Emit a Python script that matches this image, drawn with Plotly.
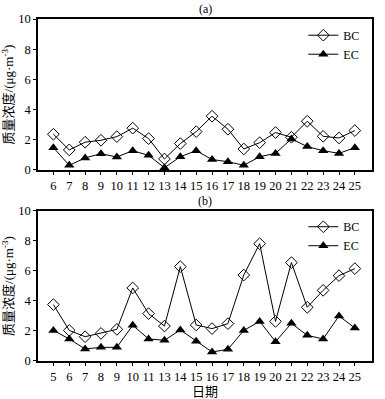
import plotly.graph_objects as go
from plotly.subplots import make_subplots

days_a = ["6","7","8","9","10","11","12","13","14","15","16","17","18","19","20","21","22","23","24","25"]
bc_a = [2.37,1.33,1.84,1.97,2.21,2.77,2.08,0.73,1.75,2.54,3.56,2.70,1.39,1.81,2.48,2.17,3.23,2.23,2.12,2.61]
ec_a = [1.48,0.31,0.80,1.08,0.86,1.28,0.97,0.15,0.88,1.28,0.69,0.55,0.31,0.88,1.10,2.06,1.55,1.28,1.10,1.48]

days_b = ["5","6","7","8","9","10","11","13","14","15","16","17","18","19","20","21","22","23","24","25"]
bc_b = [3.76,2.04,1.62,1.84,2.11,4.87,3.16,2.33,6.29,2.40,2.16,2.49,5.73,7.82,2.64,6.56,3.58,4.71,5.69,6.16]
ec_b = [2.04,1.47,0.80,0.91,0.91,2.38,1.47,1.38,2.07,1.31,0.60,0.78,2.04,2.64,1.29,2.51,1.71,1.47,3.00,2.20]

y_ticks = [0, 2, 4, 6, 8, 10]
FONT = "Liberation Serif, Noto Sans CJK SC, serif"

fig = make_subplots(rows=2, cols=1, vertical_spacing=0.12)

def add(x, bc, ec, row, legend):
    fig.add_trace(go.Scatter(x=x, y=bc, mode="lines+markers", name="BC",
                             line=dict(color="black", width=1),
                             marker=dict(symbol="diamond-open", size=9, color="black", line=dict(width=1)),
                             legend=legend), row=row, col=1)
    fig.add_trace(go.Scatter(x=x, y=ec, mode="lines+markers", name="EC",
                             line=dict(color="black", width=1),
                             marker=dict(symbol="triangle-up", size=9, color="black"),
                             legend=legend), row=row, col=1)

add(days_a, bc_a, ec_a, 1, "legend")
add(days_b, bc_b, ec_b, 2, "legend2")

axis_common = dict(showline=True, linecolor="black", linewidth=1.5, mirror=True,
                   showgrid=False, zeroline=False, ticks="outside", ticklen=3,
                   tickcolor="black", automargin=False,
                   tickfont=dict(family=FONT, size=12.5, color="black"))

fig.update_xaxes(type="category", range=[-0.97, 20.08], **axis_common)
fig.update_yaxes(range=[0, 10], tickvals=y_ticks, **axis_common)
fig.update_yaxes(title=dict(text="质量浓度/(μg·m<sup>-3</sup>)", font=dict(family=FONT, size=13, color="black"), standoff=4))
fig.update_layout(
    xaxis=dict(domain=[0, 1], tickmode="array", tickvals=days_a, ticktext=days_a),
    xaxis2=dict(tickmode="array", tickvals=days_b, ticktext=days_b,
                title=dict(text="日期", font=dict(family=FONT, size=13, color="black"), standoff=4)),
    yaxis=dict(domain=[0.5585, 1.0]),
    yaxis2=dict(domain=[0.0, 0.4386]),
)

legend_common = dict(font=dict(family=FONT, size=12, color="black"), bgcolor="rgba(0,0,0,0)",
                     xanchor="right", yanchor="top", tracegroupgap=0, itemwidth=30)
fig.update_layout(
    legend=dict(x=0.98, y=0.995, **legend_common),
    legend2=dict(x=0.98, y=0.435, **legend_common),
    showlegend=True,
    width=385, height=399,
    margin=dict(l=38, r=13, t=19, b=38, autoexpand=False),
    paper_bgcolor="white", plot_bgcolor="white",
    font=dict(family=FONT, color="black"),
    annotations=[
        dict(text="(a)", x=0.5, y=1.0, xref="paper", yref="paper", yanchor="bottom", yshift=1,
             showarrow=False, font=dict(family=FONT, size=12, color="black")),
        dict(text="(b)", x=0.5, y=0.4386, xref="paper", yref="paper", yanchor="bottom", yshift=1,
             showarrow=False, font=dict(family=FONT, size=12, color="black")),
    ],
)

fig.write_html("out.html", config={"displayModeBar": False},
               post_script="document.body.style.margin='0px';")
